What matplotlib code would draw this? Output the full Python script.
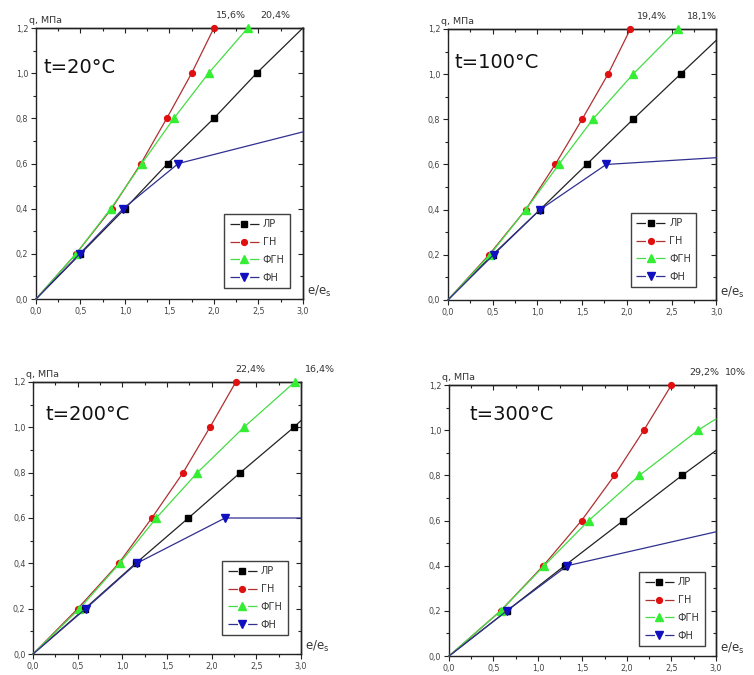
import matplotlib
matplotlib.use("Agg")
import matplotlib.pyplot as plt
from matplotlib.ticker import MultipleLocator, FuncFormatter, NullFormatter
from matplotlib.lines import Line2D

# ---------------- data ----------------
temps = ["t=20°C", "t=100°C", "t=200°C", "t=300°C"]
series_names = ["ЛР", "ГН", "ФГН", "ФН"]

# t = 20 °C
lr_20_x = [0, 0.5, 1.0, 1.48, 2.0, 2.48, 3.0]
lr_20_y = [0, 0.2, 0.4, 0.6, 0.8, 1.0, 1.2]
gn_20_x = [0, 0.45, 0.85, 1.18, 1.47, 1.75, 2.0]
gn_20_y = [0, 0.2, 0.4, 0.6, 0.8, 1.0, 1.2]
fgn_20_x = [0, 0.45, 0.84, 1.19, 1.55, 1.94, 2.38]
fgn_20_y = [0, 0.2, 0.4, 0.6, 0.8, 1.0, 1.2]
fn_20_x = [0, 0.49, 0.98, 1.6, 3.0]
fn_20_y = [0, 0.2, 0.4, 0.6, 0.74]

# t = 100 °C
lr_100_x = [0, 0.5, 1.03, 1.55, 2.07, 2.6, 3.0]
lr_100_y = [0, 0.2, 0.4, 0.6, 0.8, 1.0, 1.15]
gn_100_x = [0, 0.46, 0.87, 1.2, 1.5, 1.79, 2.04]
gn_100_y = [0, 0.2, 0.4, 0.6, 0.8, 1.0, 1.2]
fgn_100_x = [0, 0.47, 0.87, 1.24, 1.62, 2.07, 2.57]
fgn_100_y = [0, 0.2, 0.4, 0.6, 0.8, 1.0, 1.2]
fn_100_x = [0, 0.51, 1.03, 1.77, 3.0]
fn_100_y = [0, 0.2, 0.4, 0.6, 0.63]

# t = 200 °C
lr_200_x = [0, 0.58, 1.15, 1.74, 2.32, 2.92, 3.0]
lr_200_y = [0, 0.2, 0.4, 0.6, 0.8, 1.0, 1.03]
gn_200_x = [0, 0.5, 0.96, 1.33, 1.68, 1.98, 2.27]
gn_200_y = [0, 0.2, 0.4, 0.6, 0.8, 1.0, 1.2]
fgn_200_x = [0, 0.52, 0.97, 1.38, 1.84, 2.36, 2.93]
fgn_200_y = [0, 0.2, 0.4, 0.6, 0.8, 1.0, 1.2]
fn_200_x = [0, 0.59, 1.16, 2.15, 3.0]
fn_200_y = [0, 0.2, 0.4, 0.6, 0.6]

# t = 300 °C
lr_300_x = [0, 0.65, 1.3, 1.96, 2.62, 3.0]
lr_300_y = [0, 0.2, 0.4, 0.6, 0.8, 0.91]
gn_300_x = [0, 0.58, 1.06, 1.49, 1.86, 2.19, 2.5]
gn_300_y = [0, 0.2, 0.4, 0.6, 0.8, 1.0, 1.2]
fgn_300_x = [0, 0.58, 1.07, 1.57, 2.14, 2.8, 3.0]
fgn_300_y = [0, 0.2, 0.4, 0.6, 0.8, 1.0, 1.05]
fn_300_x = [0, 0.65, 1.33, 3.0]
fn_300_y = [0, 0.2, 0.4, 0.55]

# percent annotations above each panel (x position in data units, text)
pct_20 = [(2.19, "15,6%"), (2.69, "20,4%")]
pct_100 = [(2.28, "19,4%"), (2.84, "18,1%")]
pct_200 = [(2.43, "22,4%"), (3.21, "16,4%")]
pct_300 = [(2.87, "29,2%"), (3.22, "10%")]

panels = [
    dict(title=temps[0],
         series=[(lr_20_x, lr_20_y), (gn_20_x, gn_20_y), (fgn_20_x, fgn_20_y), (fn_20_x, fn_20_y)],
         pct=pct_20),
    dict(title=temps[1],
         series=[(lr_100_x, lr_100_y), (gn_100_x, gn_100_y), (fgn_100_x, fgn_100_y), (fn_100_x, fn_100_y)],
         pct=pct_100),
    dict(title=temps[2],
         series=[(lr_200_x, lr_200_y), (gn_200_x, gn_200_y), (fgn_200_x, fgn_200_y), (fn_200_x, fn_200_y)],
         pct=pct_200),
    dict(title=temps[3],
         series=[(lr_300_x, lr_300_y), (gn_300_x, gn_300_y), (fgn_300_x, fgn_300_y), (fn_300_x, fn_300_y)],
         pct=pct_300),
]

# ---------------- styling ----------------
line_colors = ["#222222", "#b03030", "#44dd44", "#303090"]
marker_colors = ["#000000", "#e01010", "#33ee33", "#1010c0"]
markers = ["s", "o", "^", "v"]
msizes = [4.0, 4.2, 5.5, 5.5]
LW = 0.9

axes_rects = [
    (0.0477, 0.557, 0.354, 0.4015),
    (0.594, 0.5556, 0.356, 0.4015),
    (0.0438, 0.0311, 0.3554, 0.403),
    (0.5955, 0.0281, 0.354, 0.4015),
]
title_pos = [(0.027, 0.856), (0.026, 0.878), (0.045, 0.879), (0.075, 0.893)]
legend_anchor = [(0.951, 0.041), (0.926, 0.048), (0.951, 0.07), (0.959, 0.037)]

fig = plt.figure(figsize=(7.54, 6.75), dpi=100)
fig.patch.set_facecolor("white")

comma = FuncFormatter(lambda v, p: f"{v:.1f}".replace(".", ","))


def set_locators(axis_obj, major, minor):
    axis_obj.set_major_locator(MultipleLocator(major))
    axis_obj.set_minor_locator(MultipleLocator(minor))


for i, p in enumerate(panels):
    ax = fig.add_axes(axes_rects[i])
    for j, (xs, ys) in enumerate(p["series"]):
        n = len(xs)
        if ys[-1] == 1.2 and xs[-1] < 3.0:
            mk = list(range(1, n))
        else:
            mk = list(range(1, n - 1))
        ax.plot(xs, ys, color=line_colors[j], lw=LW,
                marker=markers[j], markersize=msizes[j],
                markerfacecolor=marker_colors[j], markeredgecolor=marker_colors[j],
                markevery=mk, clip_on=False, zorder=3)
    ax.set_xlim(0, 3.0)
    ax.set_ylim(0, 1.2)
    set_locators(ax.xaxis, 0.5, 0.25)
    set_locators(ax.yaxis, 0.2, 0.1)
    ax.xaxis.set_major_formatter(comma)
    ax.yaxis.set_major_formatter(comma)
    ax.tick_params(which="both", direction="out", labelsize=5.8, labelcolor="#444444",
                   width=0.8, color="#222222", pad=2)
    ax.tick_params(which="major", length=3.5)
    ax.tick_params(which="minor", length=2)
    for sp in ax.spines.values():
        sp.set_linewidth(1.0)
        sp.set_color("#222222")

    # mirrored inward ticks on top and right
    top = ax.secondary_xaxis("top")
    set_locators(top.xaxis, 0.5, 0.25)
    top.xaxis.set_major_formatter(NullFormatter())
    top.tick_params(which="both", direction="in", width=0.8, color="#222222")
    top.tick_params(which="major", length=3.5)
    top.tick_params(which="minor", length=2)
    right = ax.secondary_yaxis("right")
    set_locators(right.yaxis, 0.2, 0.1)
    right.yaxis.set_major_formatter(NullFormatter())
    right.tick_params(which="both", direction="in", width=0.8, color="#222222")
    right.tick_params(which="major", length=3.5)
    right.tick_params(which="minor", length=2)
    for sec in (top, right):
        for sp in sec.spines.values():
            sp.set_linewidth(1.0)
            sp.set_color("#222222")

    ax.text(title_pos[i][0], title_pos[i][1], p["title"], transform=ax.transAxes,
            fontsize=14, ha="left", va="center", color="#111111")
    ax.text(-0.025, 1.01, "q, МПа", transform=ax.transAxes, fontsize=6.8,
            ha="left", va="bottom", color="#333333")
    ax.text(1.015, 0.0, "e/e$_\\mathregular{s}$", transform=ax.transAxes, fontsize=8.5,
            ha="left", va="bottom", color="#333333")
    for px, ptxt in p["pct"]:
        ax.text(px, 1.2 + 0.035, ptxt, fontsize=6.8, ha="center", va="bottom",
                color="#333333", clip_on=False)

    # legend handles: line with a gap around the marker
    handles = []
    for j in range(4):
        ln = Line2D([], [], color=line_colors[j], lw=LW, ls=(0, (7.6, 8.1)))
        mkr = Line2D([], [], ls="none", marker=markers[j], markersize=msizes[j],
                     markerfacecolor=marker_colors[j], markeredgecolor=marker_colors[j])
        handles.append((ln, mkr))
    leg = ax.legend(handles, series_names, loc="lower right", bbox_to_anchor=legend_anchor[i],
                    fontsize=7, frameon=True, fancybox=False, edgecolor="#111111",
                    handlelength=3.0, handletextpad=0.4, borderpad=0.55,
                    labelspacing=0.8, borderaxespad=0)
    leg.get_frame().set_linewidth(1.0)
    leg.set_zorder(5)
    for t in leg.get_texts():
        t.set_color("#333333")

fig.savefig("out.png", dpi=100, facecolor="white")
